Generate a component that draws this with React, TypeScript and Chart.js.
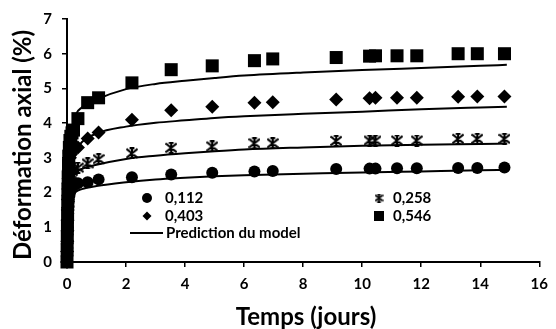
import React, { useEffect, useRef } from "react";
import { Chart, registerables } from "chart.js";

Chart.register(...registerables);

// Measurement times (days)
const times = [
  0, 0.005, 0.01, 0.015, 0.02, 0.025, 0.03, 0.04, 0.05, 0.06, 0.08, 0.1, 0.13, 0.17, 0.22,
  0.37, 0.7, 1.07, 2.2, 3.53, 4.92, 6.35, 6.97, 9.12, 10.25, 10.45, 11.18, 11.85, 13.25, 13.9, 14.82,
];
// Measured axial strain (%) for each stress level
const s112 = [0, 0.2, 0.4, 0.6, 0.8, 1.0, 1.2, 1.4, 1.6, 1.75, 1.9, 2.0, 2.1, 2.15, 2.2, 2.27, 2.3, 2.38, 2.44, 2.52, 2.57, 2.61, 2.62, 2.68, 2.69, 2.69, 2.7, 2.7, 2.71, 2.71, 2.72];
const s258 = [0, 0.25, 0.5, 0.75, 1.0, 1.25, 1.5, 1.75, 2.0, 2.2, 2.35, 2.45, 2.55, 2.62, 2.68, 2.72, 2.84, 2.96, 3.13, 3.29, 3.33, 3.42, 3.42, 3.49, 3.5, 3.5, 3.5, 3.5, 3.55, 3.55, 3.55];
const s403 = [0, 0.3, 0.6, 0.9, 1.2, 1.5, 1.8, 2.1, 2.4, 2.65, 2.85, 3.0, 3.1, 3.18, 3.25, 3.3, 3.56, 3.73, 4.1, 4.37, 4.47, 4.59, 4.6, 4.68, 4.72, 4.73, 4.73, 4.73, 4.76, 4.77, 4.77];
const s546 = [0, 0.35, 0.7, 1.05, 1.4, 1.75, 2.1, 2.45, 2.8, 3.05, 3.3, 3.5, 3.62, 3.72, 3.8, 4.13, 4.59, 4.73, 5.16, 5.54, 5.65, 5.8, 5.85, 5.89, 5.93, 5.94, 5.94, 5.94, 6.0, 6.0, 6.0];

// Model prediction
const modelTimes = [0, 0.05, 0.1, 0.2, 0.3, 0.5, 1, 2, 3, 4, 5, 6, 8, 10, 12, 14, 14.9];
const m112 = [0, 1.2, 1.6, 1.88, 2.02, 2.1, 2.19, 2.3, 2.38, 2.43, 2.47, 2.5, 2.54, 2.58, 2.61, 2.64, 2.65];
const m258 = [0, 1.5, 2.0, 2.4, 2.58, 2.68, 2.8, 2.97, 3.06, 3.13, 3.19, 3.24, 3.3, 3.35, 3.38, 3.4, 3.41];
const m403 = [0, 2.0, 2.6, 3.0, 3.2, 3.45, 3.7, 3.9, 4.01, 4.08, 4.15, 4.2, 4.27, 4.33, 4.4, 4.45, 4.47];
const m546 = [0, 2.6, 3.3, 3.9, 4.25, 4.45, 4.68, 4.98, 5.13, 5.22, 5.3, 5.37, 5.46, 5.53, 5.59, 5.65, 5.68];

const seriesLabels = ["0,112", "0,258", "0,403", "0,546"];
const modelLabel = "Prediction du model";
const xTitle = "Temps (jours)";
const yTitle = "Déformation axial (%)";

const FONT = "Lato, 'Open Sans', sans-serif";

function makeStar(w: number, h: number, lw: number): HTMLCanvasElement {
  const c = document.createElement("canvas");
  c.width = w;
  c.height = h;
  const g = c.getContext("2d")!;
  g.strokeStyle = "#000";
  g.lineWidth = lw;
  g.lineCap = "butt";
  const m = lw / 2;
  g.beginPath();
  g.moveTo(0.5, 1.5);
  g.lineTo(w - 0.5, h - 1.5);
  g.moveTo(w - 0.5, 1.5);
  g.lineTo(0.5, h - 1.5);
  g.moveTo(w / 2, 0);
  g.lineTo(w / 2, h);
  g.moveTo(w * 0.3, m);
  g.lineTo(w * 0.7, m);
  g.moveTo(w * 0.3, h - m);
  g.lineTo(w * 0.7, h - m);
  g.stroke();
  return c;
}

export default function App() {
  const ref = useRef<HTMLCanvasElement | null>(null);

  useEffect(() => {
    const canvas = ref.current!;
    const star = makeStar(12, 12, 2);
    const starSmall = makeStar(9, 9, 1.6);

    const pts = (ys: number[], xs: number[]) => xs.map((x, i) => ({ x, y: ys[i] }));

    const marker = (label: string, ys: number[], style: any, radius: number) => ({
      label,
      data: pts(ys, times),
      showLine: false,
      pointStyle: style,
      pointRadius: radius,
      pointHoverRadius: radius,
      pointBackgroundColor: "#000",
      pointBorderColor: "#000",
      pointBorderWidth: 0,
      clip: false as any,
      order: 1,
    });
    const model = (ys: number[]) => ({
      label: modelLabel,
      data: pts(ys, modelTimes),
      showLine: true,
      borderColor: "#000",
      borderWidth: 2,
      pointRadius: 0,
      cubicInterpolationMode: "monotone" as const,
      order: 2,
    });

    const legendPlugin = {
      id: "customLegend",
      afterDatasetsDraw(chart: any) {
        const ctx = chart.ctx as CanvasRenderingContext2D;
        ctx.save();
        ctx.fillStyle = "#000";
        ctx.strokeStyle = "#000";
        ctx.font = `bold 15px ${FONT}`;
        ctx.textBaseline = "middle";
        ctx.textAlign = "left";
        const r1 = 198, r2 = 216, r3 = 233;
        // circle
        ctx.beginPath();
        ctx.arc(147, r1, 5, 0, Math.PI * 2);
        ctx.fill();
        ctx.fillText(seriesLabels[0], 165, r1);
        // diamond
        ctx.beginPath();
        ctx.moveTo(147, r2 - 4.5);
        ctx.lineTo(151.5, r2);
        ctx.lineTo(147, r2 + 4.5);
        ctx.lineTo(142.5, r2);
        ctx.closePath();
        ctx.fill();
        ctx.fillText(seriesLabels[2], 165, r2);
        // line
        ctx.lineWidth = 2;
        ctx.beginPath();
        ctx.moveTo(130, r3);
        ctx.lineTo(163, r3);
        ctx.stroke();
        ctx.fillText(modelLabel, 166, r3);
        // star
        ctx.drawImage(starSmall, 379 - 4.5, r1 - 4.5);
        ctx.fillText(seriesLabels[1], 393, r1);
        // square
        ctx.fillRect(374, r2 - 5, 10, 10);
        ctx.fillText(seriesLabels[3], 393, r2);

        // axis titles
        ctx.font = `bold 24px ${FONT}`;
        ctx.textAlign = "center";
        ctx.textBaseline = "alphabetic";
        ctx.fillText(xTitle, 306, 325);
        ctx.translate(31, 145);
        ctx.rotate(-Math.PI / 2);
        ctx.fillText(yTitle, 0, 0);
        ctx.restore();
      },
    };

    const tickFont = { family: FONT, size: 15, weight: "bold" as const };

    const chart = new Chart(canvas, {
      type: "scatter",
      data: {
        datasets: [
          marker(seriesLabels[0], s112, "circle", 6),
          marker(seriesLabels[1], s258, star, 6),
          marker(seriesLabels[2], s403, "rectRot", 7),
          marker(seriesLabels[3], s546, "rect", 9.2),
          model(m112),
          model(m258),
          model(m403),
          model(m546),
        ] as any,
      },
      options: {
        responsive: false,
        animation: false,
        devicePixelRatio: 1,
        layout: { padding: { top: 18, right: 10, left: 0, bottom: 0 } },
        plugins: { legend: { display: false }, tooltip: { enabled: false } },
        scales: {
          x: {
            type: "linear",
            min: 0,
            max: 16,
            ticks: { stepSize: 2, color: "#000", font: tickFont, padding: 8 },
            grid: { display: true, drawOnChartArea: false, drawTicks: true, tickLength: 5, color: "#000", lineWidth: 1.5 },
            border: { display: true, color: "#000", width: 2 },
            afterFit: (s: any) => { s.height = 67; },
          },
          y: {
            type: "linear",
            min: 0,
            max: 7,
            ticks: { stepSize: 1, color: "#000", font: tickFont, padding: 10 },
            grid: { display: true, drawOnChartArea: false, drawTicks: true, tickLength: 5, color: "#000", lineWidth: 1.5 },
            border: { display: true, color: "#000", width: 2 },
            afterFit: (s: any) => { s.width = 67; },
          },
        },
      },
      plugins: [legendPlugin],
    });
    return () => chart.destroy();
  }, []);

  return (
    <div style={{ position: "fixed", left: 0, top: 0, width: 556, height: 329, background: "#fff" }}>
      <canvas ref={ref} width={556} height={329} />
    </div>
  );
}
